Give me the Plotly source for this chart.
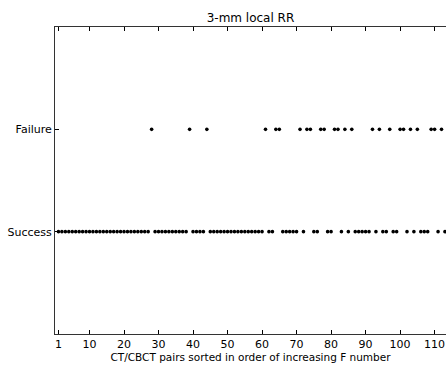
import plotly.graph_objects as go

# pairs 1..113, outcome
n_pairs = 113
failure_idx = [28, 39, 44, 61, 64, 65, 71, 73, 74, 77, 78, 81, 82, 84, 86,
               92, 94, 97, 100, 101, 103, 105, 109, 110, 112]
success_idx = [i for i in range(1, n_pairs + 1) if i not in failure_idx]

outcome_labels = ["Success", "Failure"]
x_ticks = [1, 10, 20, 30, 40, 50, 60, 70, 80, 90, 100, 110]

font = dict(family="DejaVu Sans", size=11, color="black")

fig = go.Figure()
fig.add_trace(go.Scatter(x=success_idx, y=[0] * len(success_idx), mode="markers",
                         marker=dict(color="black", size=3.6), hoverinfo="x"))
fig.add_trace(go.Scatter(x=failure_idx, y=[1] * len(failure_idx), mode="markers",
                         marker=dict(color="black", size=3.6), hoverinfo="x"))

fig.update_layout(
    width=446, height=365,
    margin=dict(l=55, r=0, t=27, b=31),
    showlegend=False,
    plot_bgcolor="white", paper_bgcolor="white",
    font=font,
    title=dict(text="3-mm local RR", x=0.5 + 55 / 446 / 2, xanchor="center",
               y=1 - 18 / 365, yanchor="middle", font=dict(size=12)),
)
fig.update_xaxes(
    range=[0, 113.3], tickvals=x_ticks, ticks="inside", ticklen=4,
    tickcolor="black", showline=True, linecolor="#333", linewidth=1,
    mirror="ticks", showgrid=False, zeroline=False, automargin=False,
    title=dict(text="CT/CBCT pairs sorted in order of increasing F number",
               standoff=0, font=dict(size=10.5)),
)
fig.update_yaxes(
    range=[-1, 2], tickvals=[0, 1], ticktext=outcome_labels, ticks="inside",
    ticklen=4, tickcolor="black", showline=True, linecolor="#333", linewidth=1,
    showgrid=False, zeroline=False, automargin=False, ticklabelstandoff=0,
)

# page body has an 8px margin by default, drop it so the figure fills the window
fig.write_html("out.html", config={"responsive": False, "displayModeBar": False},
               post_script="document.body.style.margin='0px';"
                           "document.body.style.overflow='hidden';")
